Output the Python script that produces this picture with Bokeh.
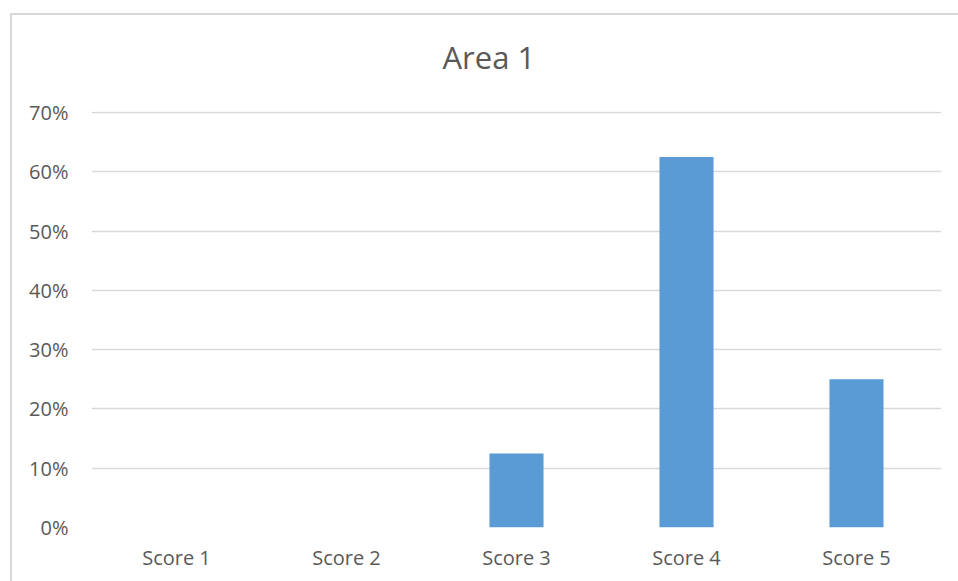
from bokeh.plotting import figure
from bokeh.models import ColumnDataSource, Range1d, NumeralTickFormatter, FixedTicker
from bokeh.embed import file_html
from bokeh.resources import INLINE

# Share of responses per score
categories = ["Score 1", "Score 2", "Score 3", "Score 4", "Score 5"]
shares = [0.0, 0.0, 0.125, 0.625, 0.25]
y_ticks = [0.0, 0.1, 0.2, 0.3, 0.4, 0.5, 0.6, 0.7]
chart_title = "Area 1"

TEXT = "#595959"
GRID = "#d9d9d9"
BAR = "#5b9bd5"
FONT = "Open Sans"

source = ColumnDataSource(data=dict(category=categories, share=shares))

p = figure(
    width=958, height=581,
    x_range=categories, y_range=Range1d(0, 0.7017),
    output_backend="svg", toolbar_location=None,
    min_border_left=91, min_border_right=17,
    min_border_top=111, min_border_bottom=54,
    title=chart_title,
)
# thin chart-area border (left and top edges), painted behind a transparent canvas
p.styles = {
    "background-color": "white",
    "background-image": f"linear-gradient({GRID}, {GRID}), linear-gradient({GRID}, {GRID})",
    "background-size": "2px 100%, 100% 2px",
    "background-position": "10px 13px, 10px 13px",
    "background-repeat": "no-repeat",
}

p.vbar(x="category", top="share", width=0.318, source=source,
       fill_color=BAR, line_color=None)

p.outline_line_color = None
p.background_fill_color = "white"
p.border_fill_color = None

# title
p.title.text_font = FONT
p.title.text_font_size = "31px"
p.title.text_font_style = "normal"
p.title.text_color = TEXT
p.title.align = "left"
p.title.vertical_align = "top"
p.title.offset = 351
p.title.standoff = 64

# grid
p.xgrid.grid_line_color = None
p.ygrid.grid_line_color = GRID
p.ygrid.grid_line_width = 1.5
p.ygrid.ticker = FixedTicker(ticks=y_ticks)

# y axis
p.yaxis.ticker = FixedTicker(ticks=y_ticks)
p.yaxis.formatter = NumeralTickFormatter(format="0%")
p.yaxis.axis_line_color = None
p.yaxis.major_tick_line_color = None
p.yaxis.minor_tick_line_color = None
p.yaxis.major_tick_out = 0
p.yaxis.major_tick_in = 0
p.yaxis.major_label_standoff = 23
p.yaxis.major_label_text_font = FONT
p.yaxis.major_label_text_font_size = "20px"
p.yaxis.major_label_text_color = TEXT

# x axis
p.xaxis.axis_line_color = None
p.xaxis.major_tick_line_color = None
p.xaxis.minor_tick_line_color = None
p.xaxis.major_tick_out = 0
p.xaxis.major_tick_in = 0
p.xaxis.major_label_standoff = 16
p.xaxis.major_label_text_font = FONT
p.xaxis.major_label_text_font_size = "20px"
p.xaxis.major_label_text_color = TEXT

open("out.html", "w").write(file_html(p, INLINE))
